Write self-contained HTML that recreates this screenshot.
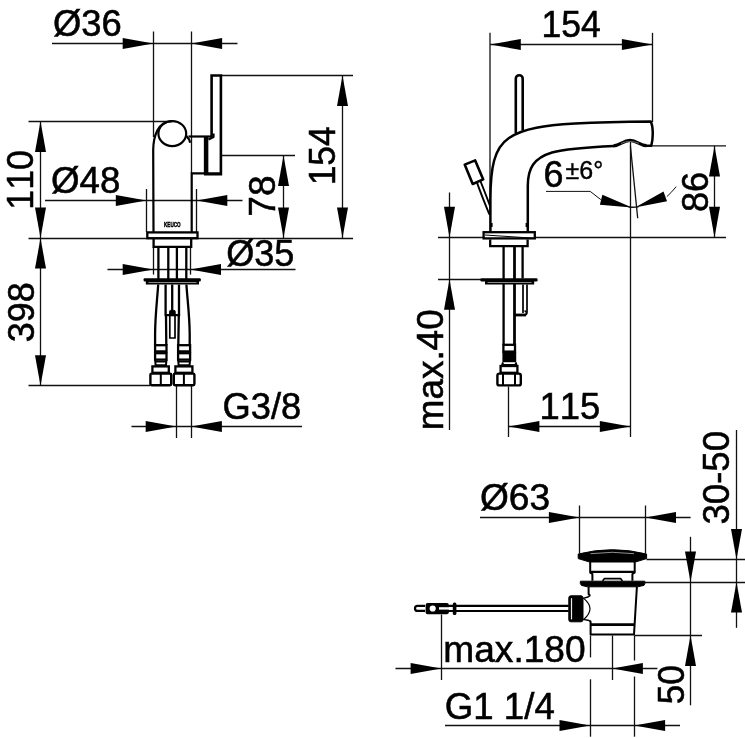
<!DOCTYPE html>
<html lang="en">
<head>
<meta charset="utf-8">
<title>Dimensional drawing</title>
<style>
html,body{margin:0;padding:0;background:#fff;}
body{width:745px;height:738px;overflow:hidden;font-family:"Liberation Sans",sans-serif;}
svg{display:block;will-change:transform;}
svg text{font-family:"Liberation Sans",sans-serif;fill:#000;font-kerning:none;}
</style>
</head>
<body>
<svg width="745" height="738" viewBox="0 0 745 738">
<rect x="0" y="0" width="745" height="738" fill="#fff"/>
<line x1="153.5" y1="31.5" x2="153.5" y2="137" stroke="#111" stroke-width="1.3" stroke-linecap="butt"/>
<line x1="191.5" y1="31.5" x2="191.5" y2="173" stroke="#111" stroke-width="1.3" stroke-linecap="butt"/>
<line x1="52" y1="43.5" x2="237.5" y2="43.5" stroke="#111" stroke-width="1.3" stroke-linecap="butt"/>
<polygon points="153.3,43.5 122.7,38.0 122.7,49.0" fill="#000"/>
<polygon points="191.5,43.5 222.1,38.0 222.1,49.0" fill="#000"/>
<line x1="28.5" y1="121.5" x2="167" y2="121.5" stroke="#111" stroke-width="1.3" stroke-linecap="butt"/>
<line x1="28.5" y1="238.5" x2="353" y2="238.5" stroke="#111" stroke-width="1.3" stroke-linecap="butt"/>
<line x1="40.5" y1="121.3" x2="40.5" y2="386" stroke="#111" stroke-width="1.3" stroke-linecap="butt"/>
<polygon points="40.5,121.3 35.0,151.9 46.0,151.9" fill="#000"/>
<polygon points="40.5,238.0 35.0,207.4 46.0,207.4" fill="#000"/>
<polygon points="40.5,238.0 35.0,268.6 46.0,268.6" fill="#000"/>
<polygon points="40.5,385.8 35.0,355.2 46.0,355.2" fill="#000"/>
<line x1="28.5" y1="385.5" x2="150" y2="385.5" stroke="#111" stroke-width="1.3" stroke-linecap="butt"/>
<line x1="146.5" y1="189" x2="146.5" y2="232" stroke="#111" stroke-width="1.3" stroke-linecap="butt"/>
<line x1="196.5" y1="189" x2="196.5" y2="232" stroke="#111" stroke-width="1.3" stroke-linecap="butt"/>
<line x1="45" y1="200.5" x2="242.5" y2="200.5" stroke="#111" stroke-width="1.3" stroke-linecap="butt"/>
<polygon points="146.4,200.5 115.8,195.0 115.8,206.0" fill="#000"/>
<polygon points="196.7,200.5 227.3,195.0 227.3,206.0" fill="#000"/>
<line x1="221" y1="75.5" x2="353" y2="75.5" stroke="#111" stroke-width="1.3" stroke-linecap="butt"/>
<line x1="342.5" y1="75.5" x2="342.5" y2="238" stroke="#111" stroke-width="1.3" stroke-linecap="butt"/>
<polygon points="342.5,75.5 337.0,106.1 348.0,106.1" fill="#000"/>
<polygon points="342.5,238.0 337.0,207.4 348.0,207.4" fill="#000"/>
<line x1="221.5" y1="155.5" x2="295" y2="155.5" stroke="#111" stroke-width="1.3" stroke-linecap="butt"/>
<line x1="283.5" y1="155.4" x2="283.5" y2="238" stroke="#111" stroke-width="1.3" stroke-linecap="butt"/>
<polygon points="283.5,155.4 278.0,186.0 289.0,186.0" fill="#000"/>
<polygon points="283.5,238.0 278.0,207.4 289.0,207.4" fill="#000"/>
<line x1="153.5" y1="247" x2="153.5" y2="274.6" stroke="#111" stroke-width="1.3" stroke-linecap="butt"/>
<line x1="190.5" y1="247" x2="190.5" y2="274.6" stroke="#111" stroke-width="1.3" stroke-linecap="butt"/>
<line x1="107.5" y1="269.5" x2="295.5" y2="269.5" stroke="#111" stroke-width="1.3" stroke-linecap="butt"/>
<polygon points="153.3,269.5 122.7,264.0 122.7,275.0" fill="#000"/>
<polygon points="190.4,269.5 221.0,264.0 221.0,275.0" fill="#000"/>
<line x1="176.5" y1="386" x2="176.5" y2="438" stroke="#111" stroke-width="1.3" stroke-linecap="butt"/>
<line x1="191.5" y1="386" x2="191.5" y2="438" stroke="#111" stroke-width="1.3" stroke-linecap="butt"/>
<line x1="131.5" y1="426.5" x2="302" y2="426.5" stroke="#111" stroke-width="1.3" stroke-linecap="butt"/>
<polygon points="176.3,426.5 145.7,421.0 145.7,432.0" fill="#000"/>
<polygon points="191.3,426.5 221.9,421.0 221.9,432.0" fill="#000"/>
<path d="M153.5 232 L153.2 150 C153.4 138 157 121.2 172 121.2" stroke="#000" stroke-width="2.2" fill="none" stroke-linejoin="round" stroke-linecap="butt"/>
<path d="M191.7 232 L191.7 173.3 L221 173.3" stroke="#000" stroke-width="2.2" fill="none" stroke-linejoin="miter" stroke-linecap="butt"/>
<ellipse cx="172.3" cy="133.6" rx="13.9" ry="12.5" stroke="#000" stroke-width="2.2" fill="none"/>
<path d="M186 135.5 C188.5 138 189.8 140.5 190.2 142.8" stroke="#000" stroke-width="2.2" fill="none" stroke-linejoin="round" stroke-linecap="butt"/>
<path d="M188.5 136.5 L212.5 136.5" stroke="#000" stroke-width="2.2" fill="none" stroke-linejoin="round" stroke-linecap="butt"/>
<path d="M206.1 136 L206.1 174.4" stroke="#000" stroke-width="4.5" fill="none" stroke-linejoin="round" stroke-linecap="butt"/>
<path d="M211.6 136.5 L211.6 75.5 L220.9 75.5 L220.9 174.2 L204 174.2" stroke="#000" stroke-width="2.6" fill="none" stroke-linejoin="miter" stroke-linecap="butt"/>
<path d="M208.5 139.5 L213.5 137 L213.5 133.5" stroke="#000" stroke-width="2.2" fill="none" stroke-linejoin="round" stroke-linecap="butt"/>
<text x="164" y="227.3" font-size="7.2" font-weight="bold" stroke="#000" stroke-width="0.45" textLength="16.6" lengthAdjust="spacingAndGlyphs">KEUCO</text>
<rect x="147.3" y="232.4" width="50.2" height="5.8" rx="0" stroke="#000" stroke-width="2.3" fill="#fff"/>
<path d="M153.6 239 L153.6 246.8 L191.2 246.8 L191.2 239" stroke="#000" stroke-width="2.3" fill="none" stroke-linejoin="miter" stroke-linecap="butt"/>
<line x1="158.4" y1="247" x2="158.4" y2="279" stroke="#000" stroke-width="2.3" stroke-linecap="butt"/>
<line x1="168.3" y1="247" x2="168.3" y2="279" stroke="#000" stroke-width="2.3" stroke-linecap="butt"/>
<line x1="176.9" y1="247" x2="176.9" y2="279" stroke="#000" stroke-width="2.3" stroke-linecap="butt"/>
<line x1="186.3" y1="247" x2="186.3" y2="279" stroke="#000" stroke-width="2.3" stroke-linecap="butt"/>
<rect x="143.6" y="278.2" width="57.2" height="3.4" rx="1" stroke="#000" stroke-width="0" fill="#000"/>
<rect x="145.8" y="281" width="53.2" height="3.6" rx="0.5" stroke="#000" stroke-width="0" fill="#000"/>
<line x1="148.5" y1="282.5" x2="196.5" y2="282.5" stroke="#999" stroke-width="0.9" stroke-linecap="butt"/>
<path d="M158.2 284.5 C157.2 300 155.2 315 155.1 334 L155.1 345" stroke="#000" stroke-width="2.3" fill="none" stroke-linejoin="round" stroke-linecap="butt"/>
<path d="M186.4 284.5 C187.4 300 189.6 315 189.7 334 L189.7 345" stroke="#000" stroke-width="2.3" fill="none" stroke-linejoin="round" stroke-linecap="butt"/>
<path d="M165.6 284.5 L165.6 315.2 M179 284.5 L179 315.2 M164.6 315.2 L180.2 315.2" stroke="#000" stroke-width="2.3" fill="none" stroke-linejoin="round" stroke-linecap="butt"/>
<path d="M172.2 284.5 L172.2 311" stroke="#000" stroke-width="2.3" fill="none" stroke-linejoin="round" stroke-linecap="butt"/>
<path d="M166 315.2 L166.3 345 M178.8 315.2 L178.3 345" stroke="#000" stroke-width="2.3" fill="none" stroke-linejoin="round" stroke-linecap="butt"/>
<path d="M169.8 315.5 L169.8 338 L175 338 L175 315.5" stroke="#000" stroke-width="1.7" fill="none" stroke-linejoin="miter" stroke-linecap="butt"/>
<rect x="169.6" y="310.4" width="5.6" height="5.2" rx="1" stroke="#000" stroke-width="1" fill="#000"/>
<rect x="155.1" y="345.2" width="11.400000000000006" height="6.2" rx="0" stroke="#000" stroke-width="2.3" fill="none"/>
<rect x="155.1" y="353.2" width="11.400000000000006" height="6.4" rx="0" stroke="#000" stroke-width="2.3" fill="none"/>
<path d="M155.1 359.6 L155.7 366 M166.5 359.6 L165.9 366 M155.5 361.6 L166.1 361.6 M155.5 365.2 L166.1 365.2" stroke="#000" stroke-width="2" fill="none" stroke-linejoin="round" stroke-linecap="butt"/>
<rect x="152.4" y="366.4" width="16.400000000000006" height="6.4" rx="0" stroke="#000" stroke-width="2.3" fill="none"/>
<rect x="150.39999999999998" y="373.6" width="20.80000000000002" height="11.6" rx="1.2" stroke="#000" stroke-width="2.4" fill="none"/>
<line x1="160.8" y1="373.6" x2="160.8" y2="385.2" stroke="#000" stroke-width="2" stroke-linecap="butt"/>
<rect x="178.1" y="345.2" width="12.0" height="6.2" rx="0" stroke="#000" stroke-width="2.3" fill="none"/>
<rect x="178.1" y="353.2" width="12.0" height="6.4" rx="0" stroke="#000" stroke-width="2.3" fill="none"/>
<path d="M178.1 359.6 L178.7 366 M190.1 359.6 L189.5 366 M178.5 361.6 L189.7 361.6 M178.5 365.2 L189.7 365.2" stroke="#000" stroke-width="2" fill="none" stroke-linejoin="round" stroke-linecap="butt"/>
<rect x="175.4" y="366.4" width="17.0" height="6.4" rx="0" stroke="#000" stroke-width="2.3" fill="none"/>
<rect x="173.79999999999998" y="373.6" width="20.6" height="11.6" rx="1.2" stroke="#000" stroke-width="2.4" fill="none"/>
<line x1="183.9" y1="373.6" x2="183.9" y2="385.2" stroke="#000" stroke-width="2" stroke-linecap="butt"/>
<line x1="490.0" y1="32.8" x2="490.0" y2="215" stroke="#111" stroke-width="1.3" stroke-linecap="butt"/>
<line x1="652.5" y1="32.8" x2="652.5" y2="122" stroke="#111" stroke-width="1.3" stroke-linecap="butt"/>
<line x1="490.2" y1="44.5" x2="652.5" y2="44.5" stroke="#111" stroke-width="1.3" stroke-linecap="butt"/>
<polygon points="490.2,44.5 520.8,39.0 520.8,50.0" fill="#000"/>
<polygon points="652.5,44.5 621.9,39.0 621.9,50.0" fill="#000"/>
<line x1="438" y1="237.5" x2="726" y2="237.5" stroke="#111" stroke-width="1.3" stroke-linecap="butt"/>
<line x1="438" y1="279.5" x2="481" y2="279.5" stroke="#111" stroke-width="1.3" stroke-linecap="butt"/>
<line x1="449.5" y1="192.5" x2="449.5" y2="430" stroke="#111" stroke-width="1.3" stroke-linecap="butt"/>
<polygon points="449.5,237.4 444.0,206.8 455.0,206.8" fill="#000"/>
<polygon points="449.5,279.2 444.0,309.8 455.0,309.8" fill="#000"/>
<line x1="644" y1="145.95" x2="726" y2="145.95" stroke="#111" stroke-width="1.3" stroke-linecap="butt"/>
<line x1="714.5" y1="145.9" x2="714.5" y2="237.4" stroke="#111" stroke-width="1.3" stroke-linecap="butt"/>
<polygon points="714.5,145.9 709.0,176.5 720.0,176.5" fill="#000"/>
<polygon points="714.5,237.4 709.0,206.8 720.0,206.8" fill="#000"/>
<line x1="508.5" y1="386.5" x2="508.5" y2="437" stroke="#111" stroke-width="1.3" stroke-linecap="butt"/>
<line x1="630.5" y1="141" x2="630.5" y2="437" stroke="#111" stroke-width="1.3" stroke-linecap="butt"/>
<line x1="508.8" y1="426.5" x2="630.4" y2="426.5" stroke="#111" stroke-width="1.3" stroke-linecap="butt"/>
<polygon points="508.8,426.5 539.4,421.0 539.4,432.0" fill="#000"/>
<polygon points="630.4,426.5 599.8,421.0 599.8,432.0" fill="#000"/>
<line x1="630.4" y1="145.9" x2="637.7" y2="218.2" stroke="#111" stroke-width="1.3" stroke-linecap="butt"/>
<path d="M546 191.4 L590.2 191.4 L600.8 199.6" stroke="#111" stroke-width="1" fill="none" stroke-linejoin="miter" stroke-linecap="butt"/>
<path d="M666.9 196.6 Q672 192 676.2 186.6" stroke="#111" stroke-width="1" fill="none" stroke-linejoin="round" stroke-linecap="butt"/>
<polygon points="632,207.6 599.9,204.8 602.4,194.7" fill="#000"/>
<polygon points="635,207.6 667,201.2 663.5,191.4" fill="#000"/>
<path d="M628.5 207 Q633.5 207.6 638.5 206.8" stroke="#111" stroke-width="1.3" fill="none" stroke-linejoin="round" stroke-linecap="butt"/>
<path d="M515.8 133 L515.8 78.7 A3.45 3.45 0 0 1 522.7 78.7 L522.7 130.4" stroke="#000" stroke-width="2.6" fill="none" stroke-linejoin="round" stroke-linecap="butt"/>
<path d="M490.4 231.5 L490.4 200 C490.4 168 494 148 509 138 C524 128 545 125.5 575 123.6 C600 122.4 625 121.9 650.8 121.6 C653.2 126.5 653.4 138 651.3 145.7 L646 145.7 M614 145.9 C590 147 566 148.5 552 152.5 C534 158 527.8 168 527.8 186 L527.8 231.5" stroke="#000" stroke-width="2.5" fill="none" stroke-linejoin="round" stroke-linecap="butt"/>
<path d="M613.5 145.9 C620 145.9 623 140.4 630 140.4 C637 140.4 640 145.7 646.5 145.7" stroke="#000" stroke-width="3.2" fill="none" stroke-linejoin="round" stroke-linecap="butt"/>
<path d="M621 143.4 Q630 139.6 639 143.4" stroke="#999" stroke-width="0.7" fill="none" stroke-linejoin="round" stroke-linecap="butt"/>
<path d="M491.4 223 L491.4 227 M526.8 223 L526.8 227" stroke="#000" stroke-width="2.4" fill="none" stroke-linejoin="round" stroke-linecap="butt"/>
<polygon points="464.7,164.6 475.2,160.4 483.2,179.4 472.7,184" fill="#fff" stroke="#000" stroke-width="2.6" stroke-linejoin="round"/>
<path d="M476.9 182.4 C481 194 485.5 205 489.4 214.5 M480.4 181 C484 190 487.5 199 490.2 206.5" stroke="#000" stroke-width="1.9" fill="none" stroke-linejoin="round" stroke-linecap="butt"/>
<rect x="483.6" y="232.2" width="51.2" height="6.2" rx="0" stroke="#000" stroke-width="2.3" fill="#fff"/>
<line x1="485" y1="235" x2="533.5" y2="238.2" stroke="#000" stroke-width="1" stroke-linecap="butt"/>
<path d="M490.2 239.4 L490.2 246.2 L527.6 246.2 L527.6 239.4" stroke="#000" stroke-width="2.3" fill="none" stroke-linejoin="miter" stroke-linecap="butt"/>
<path d="M503.6 247 L503.6 345 M522.6 247 L522.6 278.5" stroke="#000" stroke-width="2.3" fill="none" stroke-linejoin="round" stroke-linecap="butt"/>
<path d="M514.5 247 L514.5 345" stroke="#000" stroke-width="2.8" fill="none" stroke-linejoin="round" stroke-linecap="butt"/>
<rect x="480.4" y="278.2" width="57.2" height="3.3" rx="1.2" stroke="#000" stroke-width="0" fill="#000"/>
<rect x="485" y="281" width="49.2" height="3.5" rx="0.5" stroke="#000" stroke-width="0" fill="#000"/>
<line x1="487.5" y1="282.5" x2="531.5" y2="282.5" stroke="#999" stroke-width="0.9" stroke-linecap="butt"/>
<path d="M523 284.5 L523 313 M527 284.5 L527 312 Q527 315 524 315" stroke="#000" stroke-width="1.7" fill="none" stroke-linejoin="round" stroke-linecap="butt"/>
<path d="M514.5 315 L526 315" stroke="#000" stroke-width="2.8" fill="none" stroke-linejoin="round" stroke-linecap="butt"/>
<path d="M524.6 310.5 L526.4 312.4" stroke="#000" stroke-width="1.4" fill="none" stroke-linejoin="round" stroke-linecap="butt"/>
<rect x="503.4" y="344.8" width="11.6" height="6.8" rx="0" stroke="#000" stroke-width="2.3" fill="none"/>
<rect x="502.4" y="351.6" width="13.8" height="10.6" rx="0" stroke="#000" stroke-width="0" fill="#000"/>
<path d="M503 362.4 L502 365.6 M515.6 362.4 L516.6 365.6 M503 365 L516 365" stroke="#000" stroke-width="2" fill="none" stroke-linejoin="round" stroke-linecap="butt"/>
<rect x="500.6" y="366" width="16.8" height="6.8" rx="0" stroke="#000" stroke-width="2.3" fill="none"/>
<rect x="497.4" y="373.6" width="23.4" height="11.8" rx="2" stroke="#000" stroke-width="2.4" fill="none"/>
<path d="M503 373.6 L503 385.4 M515 373.6 L515 385.4" stroke="#000" stroke-width="2" fill="none" stroke-linejoin="round" stroke-linecap="butt"/>
<line x1="579.5" y1="505.5" x2="579.5" y2="553.5" stroke="#111" stroke-width="1.3" stroke-linecap="butt"/>
<line x1="645.5" y1="505.5" x2="645.5" y2="553.5" stroke="#111" stroke-width="1.3" stroke-linecap="butt"/>
<line x1="480" y1="517.5" x2="690.6" y2="517.5" stroke="#111" stroke-width="1.3" stroke-linecap="butt"/>
<polygon points="579.5,517.5 548.9,512.0 548.9,523.0" fill="#000"/>
<polygon points="645.4,517.5 676.0,512.0 676.0,523.0" fill="#000"/>
<line x1="646.5" y1="559.5" x2="745" y2="559.5" stroke="#111" stroke-width="1.3" stroke-linecap="butt"/>
<line x1="644.5" y1="582.5" x2="745" y2="582.5" stroke="#111" stroke-width="1.3" stroke-linecap="butt"/>
<line x1="634.5" y1="635.5" x2="702" y2="635.5" stroke="#111" stroke-width="1.3" stroke-linecap="butt"/>
<line x1="690.5" y1="536.8" x2="690.5" y2="705.3" stroke="#111" stroke-width="1.3" stroke-linecap="butt"/>
<polygon points="690.5,582.0 685.0,551.4 696.0,551.4" fill="#000"/>
<polygon points="690.5,635.3 685.0,665.9 696.0,665.9" fill="#000"/>
<line x1="736.5" y1="430" x2="736.5" y2="627.8" stroke="#111" stroke-width="1.3" stroke-linecap="butt"/>
<polygon points="736.5,559.5 731.0,528.9 742.0,528.9" fill="#000"/>
<polygon points="736.5,582.0 731.0,612.6 742.0,612.6" fill="#000"/>
<line x1="441.5" y1="614.5" x2="441.5" y2="680" stroke="#111" stroke-width="1.3" stroke-linecap="butt"/>
<line x1="612.5" y1="635.5" x2="612.5" y2="680" stroke="#111" stroke-width="1.3" stroke-linecap="butt"/>
<line x1="395.5" y1="668.5" x2="657.4" y2="668.5" stroke="#111" stroke-width="1.3" stroke-linecap="butt"/>
<polygon points="441.2,668.5 410.6,663.0 410.6,674.0" fill="#000"/>
<polygon points="612.4,668.5 642.9,663.0 642.9,674.0" fill="#000"/>
<line x1="590.5" y1="635.5" x2="590.5" y2="657.4" stroke="#111" stroke-width="1.3" stroke-linecap="butt"/>
<line x1="590.5" y1="679.3" x2="590.5" y2="736.7" stroke="#111" stroke-width="1.3" stroke-linecap="butt"/>
<line x1="634.5" y1="635.5" x2="634.5" y2="660.5" stroke="#111" stroke-width="1.3" stroke-linecap="butt"/>
<line x1="634.5" y1="676.5" x2="634.5" y2="736.7" stroke="#111" stroke-width="1.3" stroke-linecap="butt"/>
<line x1="445" y1="725.5" x2="680" y2="725.5" stroke="#111" stroke-width="1.3" stroke-linecap="butt"/>
<polygon points="590.1,725.5 559.5,720.0 559.5,731.0" fill="#000"/>
<polygon points="634.5,725.5 665.1,720.0 665.1,731.0" fill="#000"/>
<path d="M578.2 554 Q612.3 545.4 646.6 554 L646.6 558.6 L635.4 562 L589.6 562 L578.2 558.6 Z" stroke="#000" stroke-width="1" fill="#000" stroke-linejoin="round" stroke-linecap="butt"/>
<path d="M590.5 553.7 Q612.3 550.9 634 553.7" stroke="#ccc" stroke-width="0.7" fill="none" stroke-linejoin="round" stroke-linecap="butt"/>
<path d="M590.2 561.5 L590.2 572.6 L592.4 574 L592.4 580.8 M634.7 561.5 L634.7 572.6 L632.4 574 L632.4 580.8" stroke="#000" stroke-width="2" fill="none" stroke-linejoin="round" stroke-linecap="butt"/>
<path d="M590.2 571.8 L634.7 571.8" stroke="#000" stroke-width="2.2" fill="none" stroke-linejoin="round" stroke-linecap="butt"/>
<path d="M602.6 581 L604.4 578.6 L620.6 578.6 L622.4 581" stroke="#000" stroke-width="1.6" fill="none" stroke-linejoin="round" stroke-linecap="butt"/>
<path d="M580.4 581.2 L644.8 581.2 Q645.6 583.4 644 585.4 L637.5 586.8 L587.4 586.8 L581.4 585.4 Q579.6 583.4 580.4 581.2 Z" stroke="#000" stroke-width="1" fill="#000" stroke-linejoin="round" stroke-linecap="butt"/>
<path d="M588.6 586.8 L588.6 594 L590 595.6 M590 620.6 L590.6 622 L590.6 634.6 L634 634.6 L636.9 586.8" stroke="#000" stroke-width="2" fill="none" stroke-linejoin="round" stroke-linecap="butt"/>
<path d="M590.6 624.6 L634.4 624.6" stroke="#000" stroke-width="2.6" fill="none" stroke-linejoin="round" stroke-linecap="butt"/>
<path d="M583 598.4 L588 597 L590.4 595.4 M583 619.4 L588 620.2 L590.6 621.4" stroke="#000" stroke-width="1.4" fill="none" stroke-linejoin="round" stroke-linecap="butt"/>
<path d="M584 598.6 Q596 608.8 584 619.2" stroke="#000" stroke-width="1.2" fill="none" stroke-linejoin="round" stroke-linecap="butt"/>
<rect x="568.8" y="595.8" width="14.2" height="26" rx="2" stroke="#000" stroke-width="1" fill="#000"/>
<line x1="571.5" y1="598.2" x2="571.5" y2="619.4" stroke="#eee" stroke-width="1.2" stroke-linecap="butt"/>
<path d="M447 605.8 L568.8 605.8 M447 611 L568.8 611" stroke="#000" stroke-width="2.2" fill="none" stroke-linejoin="round" stroke-linecap="butt"/>
<path d="M425 605.9 L417.5 605.9 A2.5 2.5 0 0 0 417.5 610.9 L425 610.9" stroke="#000" stroke-width="2.2" fill="none" stroke-linejoin="round" stroke-linecap="butt"/>
<rect x="425.6" y="602.9" width="23.2" height="11.4" rx="2" stroke="#000" stroke-width="0" fill="#000"/>
<circle cx="432.7" cy="608.5" r="3.1" fill="#fff"/>
<line x1="439" y1="608.4" x2="449" y2="608.4" stroke="#fff" stroke-width="2.4" stroke-linecap="butt"/>
<rect x="452.8" y="602.4" width="3.6" height="12.6" rx="1.6" stroke="#000" stroke-width="0" fill="#000"/>
<text transform="translate(53.01 36.17) scale(0.995 1)" font-size="36.6" stroke="#000" stroke-width="0.55">Ø36</text>
<text transform="translate(51.0 192.97) scale(1.002 1)" font-size="36.6" stroke="#000" stroke-width="0.55">Ø48</text>
<text transform="translate(226.22 266.37) scale(0.986 1)" font-size="36.6" stroke="#000" stroke-width="0.55">Ø35</text>
<text transform="translate(222.55 418.57) scale(0.993 1)" font-size="36.6" stroke="#000" stroke-width="0.55">G3/8</text>
<text transform="translate(541.47 37.37) scale(0.972 1)" font-size="36.6" stroke="#000" stroke-width="0.55">154</text>
<text transform="translate(539.6 419.37) scale(0.995 1)" font-size="36.6" stroke="#000" stroke-width="0.55">115</text>
<text transform="translate(479.99 509.67) scale(1.014 1)" font-size="36.6" stroke="#000" stroke-width="0.55">Ø63</text>
<text transform="translate(443.31 661.77) scale(1.014 1)" font-size="36.6" stroke="#000" stroke-width="0.55">max.180</text>
<text transform="translate(444.83 718.57) scale(1.001 1)" font-size="36.6" stroke="#000" stroke-width="0.55">G1 1/4</text>
<text transform="translate(543.55 186.87) scale(0.98 1)" font-size="36.6" stroke="#000" stroke-width="0.55">6</text>
<text transform="translate(565.6 179.25) scale(0.982 1)" font-size="25.5" stroke="#000" stroke-width="0.4">±6°</text>
<text transform="translate(32.95 209.64) rotate(-90) scale(0.943 1)" font-size="37.8" stroke="#000" stroke-width="0.55">110</text>
<text transform="translate(33.65 342.19) rotate(-90) scale(0.949 1)" font-size="37.8" stroke="#000" stroke-width="0.55">398</text>
<text transform="translate(335.15 185.32) rotate(-90) scale(0.935 1)" font-size="37.8" stroke="#000" stroke-width="0.55">154</text>
<text transform="translate(275.15 216.63) rotate(-90) scale(0.981 1)" font-size="37.8" stroke="#000" stroke-width="0.55">78</text>
<text transform="translate(442.95 430.28) rotate(-90) scale(0.976 1)" font-size="37.8" stroke="#000" stroke-width="0.55">max.40</text>
<text transform="translate(708.05 212.1) rotate(-90) scale(0.959 1)" font-size="37.8" stroke="#000" stroke-width="0.55">86</text>
<text transform="translate(729.35 524.62) rotate(-90) scale(0.97 1)" font-size="37.8" stroke="#000" stroke-width="0.55">30-50</text>
<text transform="translate(684.25 704.23) rotate(-90) scale(0.931 1)" font-size="37.8" stroke="#000" stroke-width="0.55">50</text>
</svg>
</body>
</html>
